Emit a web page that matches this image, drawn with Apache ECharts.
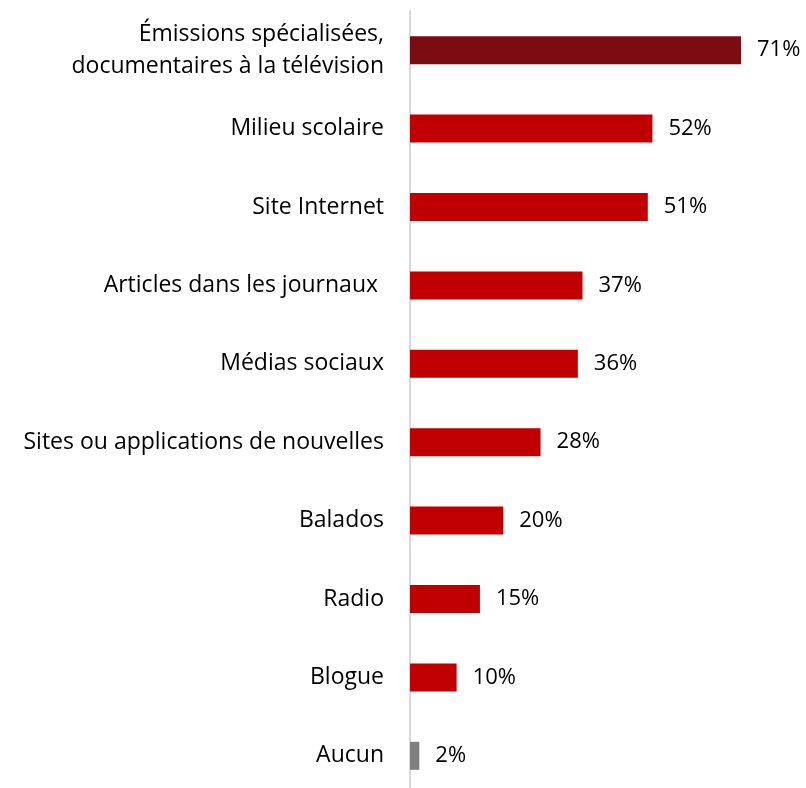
<!DOCTYPE html>
<html>
<head>
<meta charset="utf-8">
<script src="https://cdn.jsdelivr.net/npm/echarts@6/dist/echarts.min.js"></script>
<style>
  html, body { margin: 0; padding: 0; background: #fff; }
  #chart { width: 806px; height: 788px; }
</style>
</head>
<body>
<div id="chart"></div>
<script>
const categories = [
  'Émissions spécialisées,\ndocumentaires à la télévision',
  'Milieu scolaire',
  'Site Internet',
  'Articles dans les journaux ',
  'Médias sociaux',
  'Sites ou applications de nouvelles',
  'Balados',
  'Radio',
  'Blogue',
  'Aucun'
]
const values = [71, 52, 51, 37, 36, 28, 20, 15, 10, 2]
const barColors = ['#7B0C12', '#C00000', '#C00000', '#C00000', '#C00000', '#C00000', '#C00000', '#C00000', '#C00000', '#7F7F7F']

const chart = echarts.init(document.getElementById('chart'))
const font = '"Open Sans", "Noto Sans", sans-serif'

const option = {
  animation: false,
  grid: {
    left: 410,
    top: 11,
    width: 373,
    height: 784,
    outerBoundsMode: 'none',
    containLabel: false
  },
  xAxis: {
    type: 'value',
    min: 0,
    max: 80,
    show: false
  },
  yAxis: {
    type: 'category',
    inverse: true,
    data: categories,
    axisLine: { show: true, lineStyle: { color: '#D9D9D9', width: 2 } },
    axisTick: { show: false },
    axisLabel: {
      margin: 26,
      color: '#000',
      fontFamily: font,
      fontSize: 23,
      lineHeight: 32
    }
  },
  series: [
    {
      type: 'bar',
      barWidth: 28,
      data: values.map(function (v, i) {
        return { value: v, itemStyle: { color: barColors[i] } }
      }),
      label: {
        show: true,
        position: 'right',
        distance: 16,
        formatter: '{c}%',
        color: '#000',
        fontFamily: font,
        fontSize: 22
      }
    }
  ]
}

chart.setOption(option)
</script>
</body>
</html>
